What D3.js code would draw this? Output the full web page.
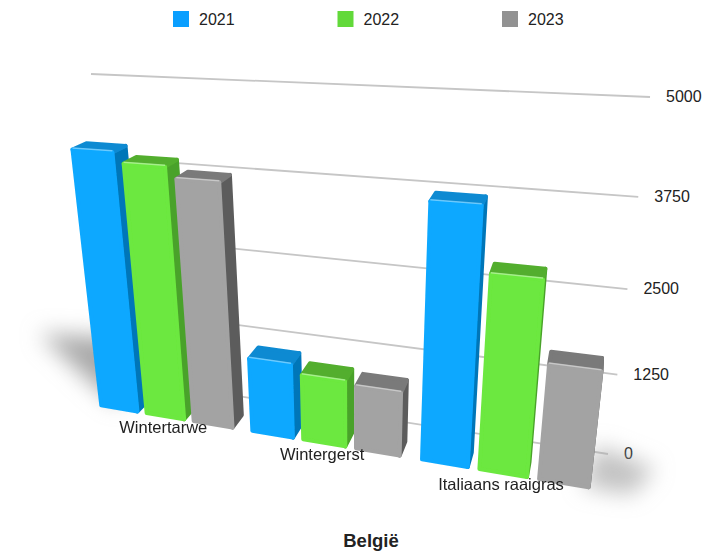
<!DOCTYPE html>
<html>
<head>
<meta charset="utf-8">
<script src="https://cdn.jsdelivr.net/npm/d3@7"></script>
<style>
    html, body { margin: 0; padding: 0; background: #fff; }
    text { font-family: "Liberation Sans", sans-serif; fill: #222; }
</style>
</head>
<body>
<svg id="chart" width="719" height="554"></svg>
<script>
const categories = ["Wintertarwe", "Wintergerst", "Italiaans raaigras"];
const seriesNames = ["2021", "2022", "2023"];
const values2021 = [4100, 1190, 3760];
const values2022 = [3950, 1050, 2870];
const values2023 = [3790, 1000, 1720];
const seriesValues = [values2021, values2022, values2023];
const tickValues = [0, 1250, 2500, 3750, 5000];
const chartTitle = "België";

const faceColors = ["#0aa8ff", "#6ce83f", "#a3a3a3"];
const sideColors = ["#0476b8", "#4aa22a", "#5c5c5c"];
const topColors = ["#0b8ad2", "#52ae2e", "#7a7a7a"];
const legendColors = ["#0a9fff", "#62d93a", "#929292"];

// wall corners + vanishing point of the depth axis, tuned by eye against the picture
const wall = [[122, 378], [608, 454], [650, 97], [91, 74]];
const vanish = [625, -100];
const depthUnit = 0.052;

let svg = d3.select("#chart");

// unit square -> quad
function makeHomography(q) {
    let dx1 = q[1][0] - q[2][0], dx2 = q[3][0] - q[2][0], sx = q[0][0] - q[1][0] + q[2][0] - q[3][0];
    let dy1 = q[1][1] - q[2][1], dy2 = q[3][1] - q[2][1], sy = q[0][1] - q[1][1] + q[2][1] - q[3][1];
    let den = dx1 * dy2 - dx2 * dy1;
    let g = (sx * dy2 - dx2 * sy) / den;
    let h = (dx1 * sy - sx * dy1) / den;
    return {
        a: q[1][0] - q[0][0] + g * q[1][0], b: q[3][0] - q[0][0] + h * q[3][0], c: q[0][0],
        d: q[1][1] - q[0][1] + g * q[1][1], e: q[3][1] - q[0][1] + h * q[3][1], f: q[0][1],
        g: g, h: h
    };
}
const H = makeHomography(wall);

// u along the wall, v up the wall, z towards the wall (0 = wall, -1 = bar fronts)
function project(u, v, z) {
    let k = z * depthUnit;
    let w = H.g * u + H.h * v + 1 + k;
    return [
        (H.a * u + H.b * v + H.c + k * vanish[0]) / w,
        (H.d * u + H.e * v + H.f + k * vanish[1]) / w
    ];
}

const vScale = d3.scaleLinear().domain([0, 5000]).range([0, 1]);
const groupScale = d3.scaleBand().domain(categories).range([0.016, 0.97]).paddingInner(0.125);
const barScale = d3.scaleBand().domain(seriesNames).range([0, groupScale.bandwidth()]).paddingInner(0.2);
const legendScale = d3.scalePoint().domain(seriesNames).range([173, 502]);

const quad = d3.line();
const closed = pts => quad(pts) + "Z";

let defs = svg.append("defs");
defs.append("filter").attr("id", "soft").append("feGaussianBlur").attr("stdDeviation", 0.6);
defs.append("filter").attr("id", "shadow")
    .attr("x", "-60%").attr("y", "-60%").attr("width", "220%").attr("height", "220%")
    .append("feGaussianBlur").attr("stdDeviation", 11);

// Gridlines
svg.append("g").selectAll("line")
    .data(tickValues)
    .enter().append("line")
    .attr("x1", d => project(0, vScale(d), 0)[0])
    .attr("y1", d => project(0, vScale(d), 0)[1])
    .attr("x2", d => project(1, vScale(d), 0)[0])
    .attr("y2", d => project(1, vScale(d), 0)[1])
    .attr("stroke", "#c6c6c6")
    .attr("stroke-width", 1.8);

// Tick labels
svg.append("g").selectAll("text")
    .data(tickValues)
    .enter().append("text")
    .attr("x", d => project(1, vScale(d), 0)[0] + 16)
    .attr("y", d => project(1, vScale(d), 0)[1] + 5)
    .attr("font-size", 16)
    .text(d => d);

// Floor shadows
let shadows = svg.append("g").attr("filter", "url(#shadow)").attr("fill", "#a8a8a8");
shadows.append("path").attr("d", closed([
    project(-0.3, 0, 1.2), project(-0.04, 0, 1.6), project(0.05, 0, -0.9), project(-0.04, 0, -0.4)
]));
shadows.append("path").attr("d", closed([
    project(0.96, 0, -1), project(0.98, 0, 0.2), project(1.08, 0, -0.2), project(1.04, 0, -1)
])).attr("opacity", 0.7);

// Bars
let barData = [];
categories.forEach(function(cat, i) {
    seriesNames.forEach(function(name, j) {
        barData.push({category: cat, series: j, value: seriesValues[j][i],
            u0: groupScale(cat) + barScale(name), u1: groupScale(cat) + barScale(name) + barScale.bandwidth()});
    });
});
const zFront = -1, zBack = -0.58;

let bars = svg.append("g").selectAll("g")
    .data(barData)
    .enter().append("g")
    .attr("filter", "url(#soft)")
    .attr("stroke-linejoin", "round")
    .attr("stroke-width", 4);

bars.append("path")
    .attr("d", d => closed([project(d.u1, 0, zFront), project(d.u1, vScale(d.value), zFront),
        project(d.u1, vScale(d.value), zBack), project(d.u1, 0, zBack)]))
    .attr("fill", d => sideColors[d.series])
    .attr("stroke", d => sideColors[d.series]);
bars.append("path")
    .attr("d", d => closed([project(d.u0, vScale(d.value), zFront), project(d.u1, vScale(d.value), zFront),
        project(d.u1, vScale(d.value), zBack), project(d.u0, vScale(d.value), zBack)]))
    .attr("fill", d => topColors[d.series])
    .attr("stroke", d => topColors[d.series]);
bars.append("path")
    .attr("d", d => closed([project(d.u0, 0, zFront), project(d.u1, 0, zFront),
        project(d.u1, vScale(d.value), zFront), project(d.u0, vScale(d.value), zFront)]))
    .attr("fill", d => faceColors[d.series])
    .attr("stroke", d => faceColors[d.series]);
// light edge along the top of the front face
bars.append("path")
    .attr("d", d => quad([project(d.u0, vScale(d.value), zFront), project(d.u1, vScale(d.value), zFront)]))
    .attr("fill", "none")
    .attr("stroke", "#fff")
    .attr("stroke-opacity", 0.4)
    .attr("stroke-width", 1.5)
    .attr("transform", "translate(0,-1.5)");

// Category labels
svg.append("g").selectAll("text")
    .data(categories)
    .enter().append("text")
    .attr("x", d => project(groupScale(d) + groupScale.bandwidth() / 2, 0, zFront)[0] - 2)
    .attr("y", d => project(groupScale(d) + groupScale.bandwidth() / 2, 0, zFront)[1] + 17)
    .attr("text-anchor", "middle")
    .attr("font-size", 16.5)
    .text(d => d);

// Legend
let legend = svg.append("g").selectAll("g")
    .data(seriesNames)
    .enter().append("g")
    .attr("transform", d => `translate(${legendScale(d)}, 11)`);
legend.append("rect")
    .attr("width", 16)
    .attr("height", 16)
    .attr("fill", (d, i) => legendColors[i]);
legend.append("text")
    .attr("x", 26)
    .attr("y", 14)
    .attr("font-size", 16)
    .text(d => d);

// Title
svg.append("text")
    .attr("x", 371)
    .attr("y", 547)
    .attr("text-anchor", "middle")
    .attr("font-size", 18.5)
    .attr("font-weight", "bold")
    .text(chartTitle);
</script>
</body>
</html>
